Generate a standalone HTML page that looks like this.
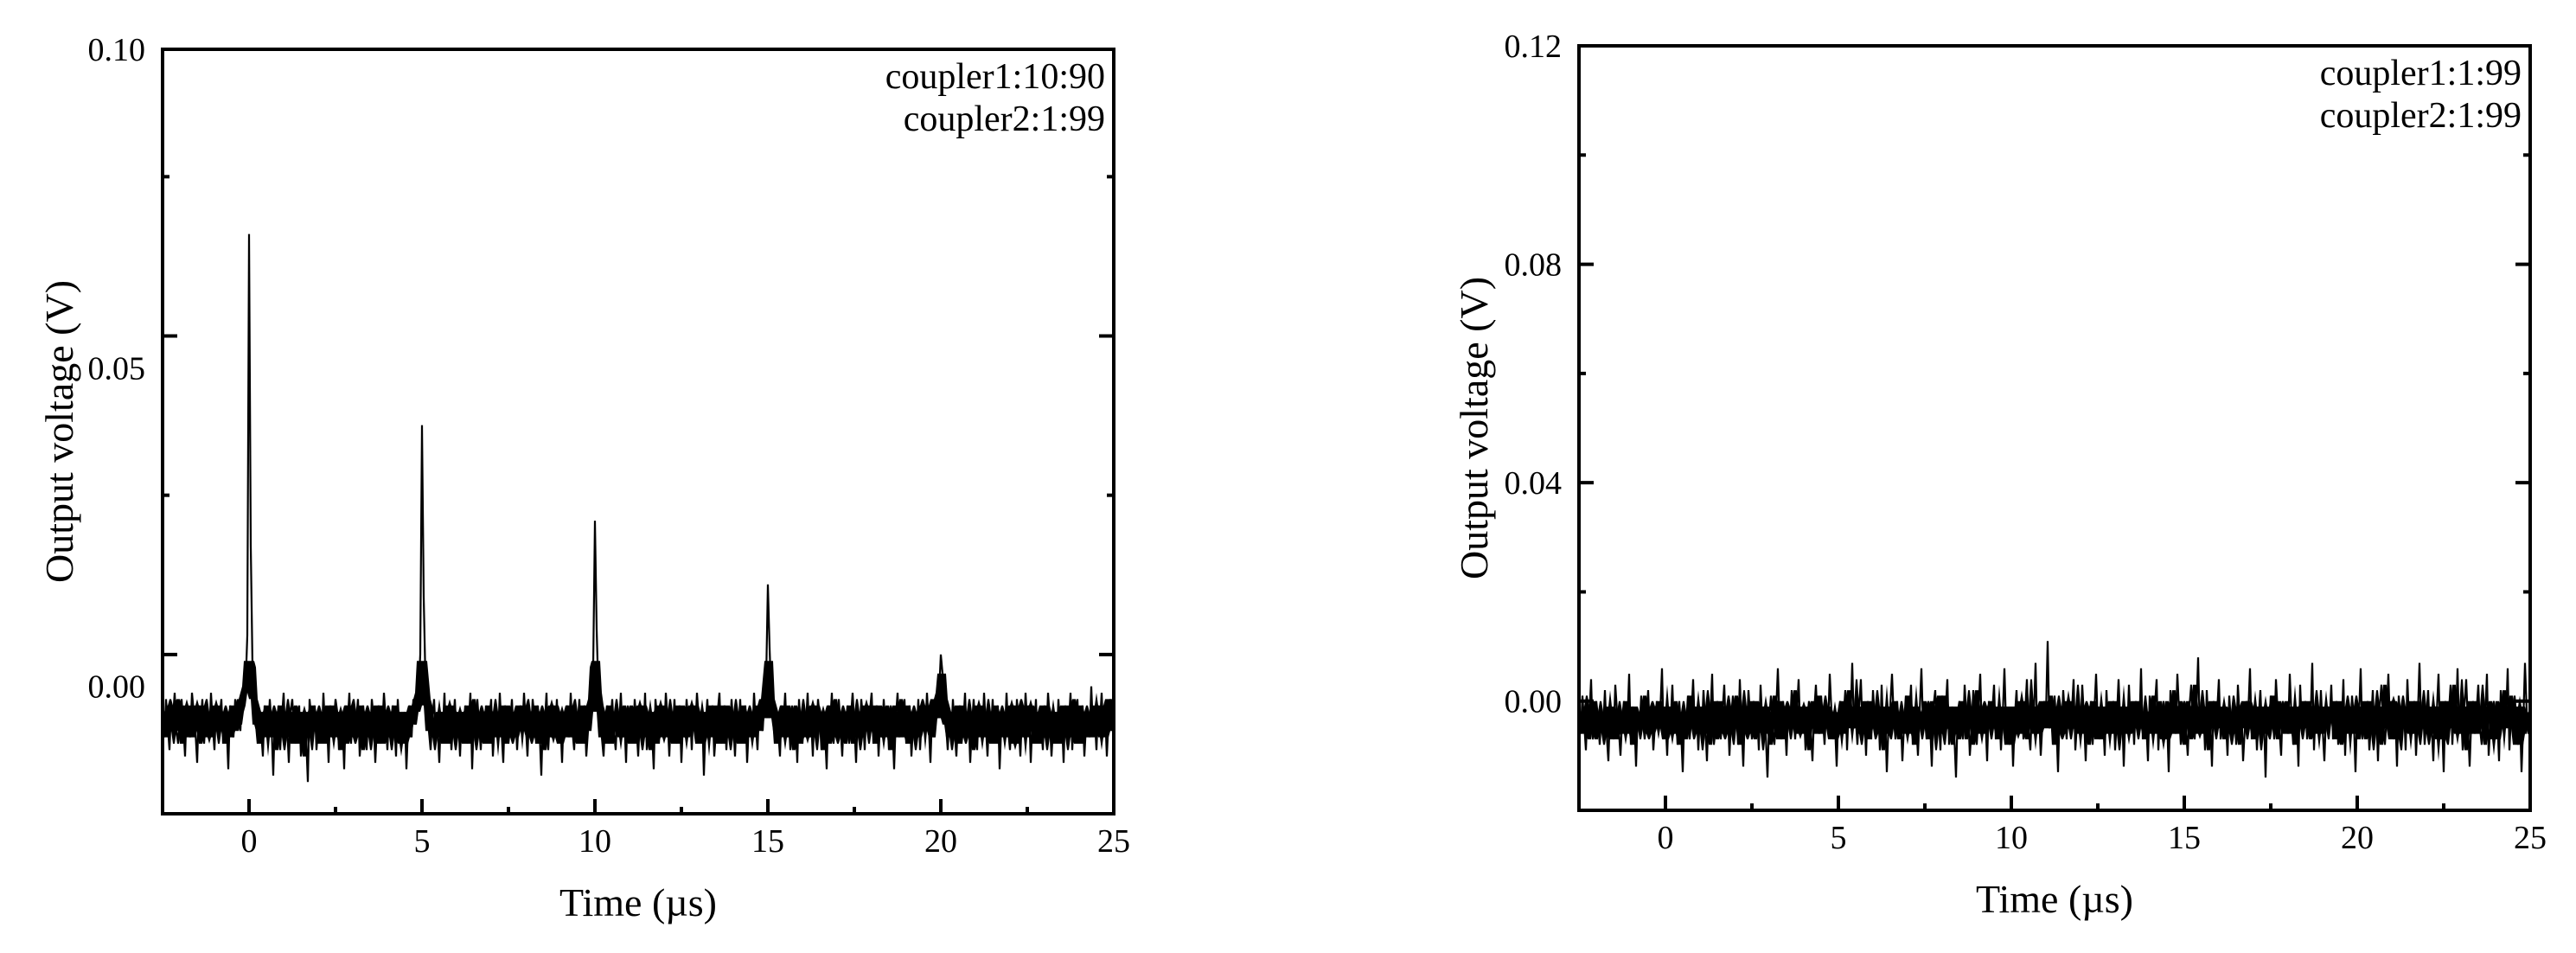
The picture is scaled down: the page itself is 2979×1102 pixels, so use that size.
<!DOCTYPE html>
<html><head><meta charset="utf-8"><style>
html,body{margin:0;padding:0;background:#fff;}
svg{display:block;font-family:"Liberation Serif",serif;}
</style></head><body>
<svg id="fig" width="2979" height="1102" viewBox="0 0 2979 1102" xmlns="http://www.w3.org/2000/svg">
<rect width="2979" height="1102" fill="#fff"/>
<g id="p1"></g>
<g id="p2"></g>
</svg>
<script>
// time axis: start -2.5 us, step 0.05 us
const t0 = -2.5;
const dt = 0.05;
const xTicks = [0, 5, 10, 15, 20, 25];
const leftYTicks = [0.00, 0.05, 0.10];
const leftYTickLabels = ["0.00", "0.05", "0.10"];
const rightYTicks = [0.00, 0.04, 0.08, 0.12];
const rightYTickLabels = ["0.00", "0.04", "0.08", "0.12"];
const leftNotes = ["coupler1:10:90", "coupler2:1:99"];
const rightNotes = ["coupler1:1:99", "coupler2:1:99"];
// voltages in mV
const leftSeries = [
-4,-8,-2,-6,-10,-3,-5,-1,-7,-9,
-4,-2,-6,-11,-3,-5,-8,-1,-4,-7,
-12,-3,-6,-2,-9,-5,-4,-8,-1,-6,
-10,-3,-7,-5,-2,-9,-4,-6,-13,-3,
-5,-8,-2,-6,-4,-7,-1,-3,0,8,
71,22,3,-2,-6,-9,-4,-7,-11,-3,
-5,-8,-2,-6,-14,-4,-7,-3,-10,-5,
-1,-8,-6,-12,-4,-2,-7,-9,-5,-3,
-11,-6,-4,-8,-15,-2,-5,-7,-3,-10,
-6,-4,-9,-1,-7,-5,-12,-3,-8,-6,
-2,-4,-10,-7,-5,-13,-3,-6,-1,-9,
-4,-8,-5,-2,-11,-7,-3,-6,-10,-4,
-8,-2,-5,-12,-6,-3,-9,-7,-1,-5,
-10,-4,-8,-3,-6,-11,-2,-7,-5,-9,
-4,-13,-6,-3,-8,-2,-6,-4,-1,5,
41,14,1,-3,-7,-10,-5,-2,-8,-6,
-12,-4,-7,-1,-9,-5,-3,-10,-6,-2,
-8,-5,-11,-4,-7,-3,-9,-6,-1,-13,
-5,-8,-2,-6,-10,-4,-7,-3,-9,-5,
-2,-11,-6,-4,-8,-1,-7,-12,-3,-5,
-9,-6,-2,-8,-4,-10,-5,-3,-7,-1,
-6,-11,-4,-8,-2,-5,-9,-3,-7,-14,
-4,-6,-1,-10,-5,-8,-3,-7,-2,-9,
-5,-12,-4,-6,-3,-8,-1,-7,-10,-4,
-6,-2,-9,-5,-3,-11,-7,-4,-2,3,
26,9,-1,-4,-8,-11,-5,-3,-9,-6,
-2,-7,-10,-4,-6,-1,-8,-5,-12,-3,
-7,-4,-9,-2,-6,-11,-5,-3,-8,-1,
-10,-6,-4,-7,-13,-2,-5,-9,-3,-6,
-8,-1,-5,-11,-4,-7,-2,-9,-6,-3,
-12,-5,-8,-2,-6,-4,-10,-3,-7,-1,
-5,-9,-4,-14,-6,-2,-8,-5,-3,-11,
-7,-4,-1,-9,-6,-3,-10,-5,-8,-2,
-6,-11,-4,-7,-2,-9,-5,-3,-12,-6,
-4,-8,-1,-6,-10,-3,-5,-7,-2,1,
16,6,-2,-5,-9,-4,-7,-11,-3,-6,
-1,-8,-5,-10,-3,-7,-4,-12,-2,-6,
-9,-4,-6,-1,-8,-5,-11,-3,-7,-2,
-5,-10,-4,-7,-13,-3,-6,-1,-9,-5,
-8,-2,-6,-11,-4,-7,-3,-9,-5,-1,
-6,-12,-4,-8,-2,-5,-10,-3,-7,-4,
-1,-9,-6,-3,-11,-5,-8,-2,-7,-4,
-10,-3,-6,-13,-5,-1,-8,-4,-7,-2,
-9,-5,-3,-11,-6,-4,-8,-2,-10,-5,
-3,-7,-1,-6,-12,-4,-8,-2,-5,-1,
5,2,-3,-6,-10,-4,-8,-2,-7,-11,
-5,-3,-9,-6,-1,-8,-4,-12,-6,-2,
-7,-10,-3,-5,-8,-1,-6,-11,-4,-7,
-2,-9,-5,-3,-13,-6,-4,-8,-1,-7,
-10,-5,-3,-9,-2,-6,-11,-4,-8,-1,
-6,-3,-12,-5,-7,-2,-9,-4,-6,-10,
-3,-8,-1,-5,-11,-6,-4,-9,-2,-7,
-5,-12,-3,-8,-6,-1,-10,-4,-7,-2,
-9,-5,-3,-11,-6,-4,-8,0,-7,-5,
-10,-3,-6,-1,-8,-4,-11,-5,-2,-7,
2];
const rightSeries = [
-2,-6,1,-4,-9,-1,-3,4,-7,-5,
0,-3,-8,-2,-5,2,-6,-11,-1,-4,
-7,3,-2,-5,-10,-3,0,-6,-4,5,
-8,-1,-3,-12,-2,-5,1,-4,-7,-3,
2,-6,-1,-9,-4,0,-5,-2,6,-7,
-3,-10,-1,-4,3,-6,-2,-8,0,-5,
-13,-2,-4,1,-7,-3,4,-5,-1,-9,
-2,-6,2,-4,-11,-1,-3,5,-8,-5,
0,-4,-7,-2,3,-6,-1,-10,-3,1,
-5,-2,-8,4,-4,-12,-1,-6,2,-3,
-7,0,-5,-2,-9,3,-4,-1,-6,-14,
-3,1,-5,-8,-2,6,-4,-7,0,-3,
-10,-1,-5,2,-3,-7,-2,4,-6,-4,
-1,-9,-3,0,-5,-11,-2,3,-4,-6,
1,-3,-8,-1,-5,5,-2,-7,-4,-12,
-2,0,-6,-3,2,-9,-1,-4,7,-5,
-3,-8,-1,4,-6,-2,-10,0,-4,-7,
2,-3,-5,-1,-9,3,-6,-2,-13,-4,
-1,5,-3,-7,0,-5,-2,-11,-4,1,
-6,-3,3,-8,-1,-4,-10,-2,6,-5,
-3,-7,0,-4,-12,-1,2,-6,-3,-9,
1,-5,-2,4,-8,-3,-1,-6,-14,-2,
0,-4,-7,3,-3,-1,-10,-5,2,-4,
-8,-2,5,-6,-1,-3,-11,0,-5,-2,
3,-7,-4,-1,-9,-3,6,-5,-2,-8,
-1,-12,-3,2,-6,-4,0,-7,-2,4,
-5,-9,-1,-3,7,-6,-2,-10,-4,0,
-3,11,-5,-2,-8,1,-4,-13,-1,-6,
2,-3,-7,0,-5,-2,4,-9,-4,-1,
-6,3,-3,-11,-1,-5,0,-8,-2,5,
-4,-7,-1,-3,-10,2,-5,-2,-6,0,
-9,-3,4,-4,-1,-12,-2,-6,3,-5,
-1,-8,0,-3,-5,6,-7,-2,-4,-11,
1,-3,-6,-1,4,-9,-2,-5,0,-7,
-3,-13,2,-4,-1,-6,5,-2,-8,-3,
0,-5,-10,-1,3,-4,-7,-2,8,-6,
-3,-1,-9,2,-5,-3,-12,0,-4,-2,
4,-7,-1,-5,-3,-10,1,-4,-6,-2,
-8,3,-3,-1,-11,-5,0,-2,6,-7,
-4,-1,-9,-3,2,-6,-2,-14,-1,-5,
1,-3,-7,4,-2,-5,-10,0,-4,-1,
-6,5,-3,-8,-1,-2,-12,3,-5,-4,
0,-7,-2,-4,7,-9,-1,-3,-6,2,
-5,-11,-2,-1,-4,3,-7,-3,0,-8,
-2,-5,4,-10,-1,-4,-6,1,-3,-13,
-1,-3,6,-7,-2,-5,0,-9,-4,2,
-6,-2,-11,-1,3,-4,-8,-3,5,-5,
0,-7,-2,-12,1,-3,-5,-1,-9,4,
-4,-2,-6,0,-10,-3,7,-5,-1,-8,
-3,2,-6,-4,-11,-1,-2,5,-7,-3,
-13,0,-4,-2,3,-8,-1,-5,6,-6,
-2,-9,-1,4,-4,-12,-3,0,-6,-2,
3,-5,-8,-1,-3,5,-10,-4,-2,0,
-7,-3,-11,2,-5,-1,-4,6,-9,-2,
-5,1,-3,-8,-1,-13,-4,7,-2,-6,
-3];

const NS = "http://www.w3.org/2000/svg";
function mk(parent, tag, attrs, text) {
  const e = document.createElementNS(NS, tag);
  for (const k in attrs) e.setAttribute(k, attrs[k]);
  if (text !== undefined) e.textContent = text;
  parent.appendChild(e);
  return e;
}

function drawChart(g, cfg) {
  const L = cfg.L, R = cfg.R, T = cfg.T, B = cfg.B;
  const xs = v => L + (v - (-2.5)) / (25 - (-2.5)) * (R - L);
  const ys = v => B - (v - cfg.ymin) / (cfg.ymax - cfg.ymin) * (B - T);
  const s = cfg.series;
  const n = s.length;
  // dense noise band derived from the series (3rd value from each end of a 7-sample window)
  const up = [], lo = [];
  for (let i = 0; i < n; i++) {
    const w = [];
    for (let k = i - 3; k <= i + 3; k++) if (k >= 0 && k < n) w.push(s[k]);
    w.sort((a, b) => a - b);
    lo.push(w[Math.min(1, w.length - 1)]);
    up.push(Math.min(w[Math.max(0, w.length - 2)], 4));
  }
  let bd = "";
  for (let i = 0; i < n; i++) bd += (i ? "L" : "M") + xs(t0 + i * dt).toFixed(2) + " " + ys(up[i] / 1000).toFixed(2);
  for (let i = n - 1; i >= 0; i--) bd += "L" + xs(t0 + i * dt).toFixed(2) + " " + ys(lo[i] / 1000).toFixed(2);
  bd += "Z";
  const band = mk(g, "path", {d: bd, fill: "#000", stroke: "none"});
  
  
  let d = "";
  s.forEach((mv, i) => {
    const x = xs(t0 + i * dt), y = ys(mv / 1000);
    d += (i ? "L" : "M") + x.toFixed(2) + " " + y.toFixed(2);
  });
  const path = mk(g, "path", {d: d, fill: "none", stroke: "#000", "stroke-width": 2.2, "stroke-linejoin": "bevel"});
  
  
  const fr = mk(g, "rect", {x: L, y: T, width: R - L, height: B - T, fill: "none", stroke: "#000", "stroke-width": 4});
  
  
  for (let v = 0; v <= 25; v += 2.5) {
    const major = Math.abs(v % 5) < 1e-9;
    const x = xs(v);
    const tk = mk(g, "line", {x1: x, x2: x, y1: B, y2: B - (major ? 17 : 8), stroke: "#000", "stroke-width": 4});
    
    
  }
  xTicks.forEach(v => {
    const lb = mk(g, "text", {x: xs(v), y: B + 44, "text-anchor": "middle", "font-size": 38}, String(v));
    
    
  });
  for (let v = cfg.ymin; v <= cfg.ymax + 1e-9; v += cfg.yminor) {
    const idx = Math.round(v / cfg.yminor);
    if (v < -1e-9) continue;
    const major = idx % 2 === 0;
    const y = ys(v);
    const len = major ? 17 : 8;
    const a = mk(g, "line", {x1: L, x2: L + len, y1: y, y2: y, stroke: "#000", "stroke-width": 4});
    
    
    const b = mk(g, "line", {x1: R, x2: R - len, y1: y, y2: y, stroke: "#000", "stroke-width": 4});
    
    
  }
  cfg.yt.forEach((v, i) => {
    const lb = mk(g, "text", {x: L - 20, y: ys(v) + 13, "text-anchor": "end", "font-size": 38}, cfg.ytl[i]);
    
    
  });
  const xt = mk(g, "text", {x: (L + R) / 2, y: B + 118, "text-anchor": "middle", "font-size": 46}, "Time (\u00b5s)");
  
  
  const yt = mk(g, "text", {x: 0, y: 0, "text-anchor": "middle", "font-size": 46,
    transform: "translate(" + cfg.ytx + "," + ((T + B) / 2) + ") rotate(-90)"}, "Output voltage (V)");
  
  
  cfg.notes.forEach((str, i) => {
    const t = mk(g, "text", {x: R - 10, y: T + 45 + i * 49, "text-anchor": "end", "font-size": 42}, str);
    
    
  });
}

drawChart(document.getElementById("p1"), {L: 188, R: 1288, T: 57, B: 941, ymin: -0.02, ymax: 0.10, yminor: 0.025,
  yt: leftYTicks, ytl: leftYTickLabels, series: leftSeries, notes: leftNotes, ytx: 84});
drawChart(document.getElementById("p2"), {L: 1826, R: 2926, T: 53, B: 937, ymin: -0.02, ymax: 0.12, yminor: 0.02,
  yt: rightYTicks, ytl: rightYTickLabels, series: rightSeries, notes: rightNotes, ytx: 1720});
</script>
</body></html>
